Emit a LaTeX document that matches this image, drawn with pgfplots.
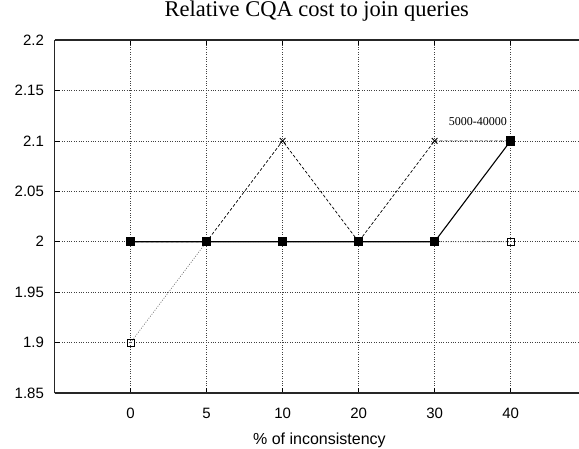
\documentclass[border=0pt]{standalone}
\usepackage{pgfplots}
\pgfplotsset{compat=1.18}
\usepackage{fontspec}
\setmainfont{Liberation Serif}
\newfontfamily\sans{Liberation Sans}
\begin{document}
\begin{tikzpicture}
\begin{axis}[
  scale only axis, width=524.4pt, height=353pt,
  at={(0,0)}, anchor=south west,
  xmin=-1, xmax=5.9, ymin=1.85, ymax=2.2,
  axis y line*=left,
  xtick={0,1,2,3,4,5}, xticklabels={0,5,10,20,30,40},
  ytick={1.85,1.9,1.95,2,2.05,2.1,2.15,2.2},
  yticklabels={1.85,1.9,1.95,2,2.05,2.1,2.15,2.2},
  tick align=inside, major tick length=5pt,
  tick style={black, line width=0.6pt},
  axis line style={line width=1.1pt, black!85},
  grid=major, grid style={dotted, black!75, line width=0.7pt},
  tick label style={font=\sans\fontsize{15}{17}\selectfont},
  xticklabel style={anchor=base, yshift=-25.7pt},
  yticklabel style={anchor=east, inner sep=0pt, xshift=-10.5pt},
  xlabel={\% of inconsistency},
  xlabel style={font=\sans\fontsize{16}{18}\selectfont, inner sep=0pt, at={(axis description cs:0.505,0)}, anchor=base, yshift=-51pt},
  title={Relative CQA cost to join queries},
  title style={font=\fontsize{22.5}{24}\selectfont, inner sep=0pt, at={(axis description cs:0.5,1)}, anchor=base, yshift=17.5pt},
  clip=false,
]
\addplot[black!60, line width=0.6pt, dash pattern=on 1pt off 1.5pt, mark=square, mark size=3.4pt, mark options={solid, black, line width=0.6pt}]
  coordinates {(0,1.9)(1,2)(2,2)(3,2)(4,2)(5,2)};
\addplot[black, line width=0.7pt, dash pattern=on 3pt off 2pt, mark=x, mark size=4pt, mark options={solid, line width=0.9pt}]
  coordinates {(0,2)(1,2)(2,2.1)(3,2)(4,2.1)(5,2.1)};
\addplot[black, line width=1.1pt, mark=square*, mark size=4.1pt, mark options={solid}]
  coordinates {(0,2)(1,2)(2,2)(3,2)(4,2)(5,2.1)};
\node[font=\fontsize{12}{14}\selectfont] at (axis cs:4.57,2.119) {5000-40000};
\end{axis}
\pgfresetboundingbox
\useasboundingbox (-54.6pt,-55pt) rectangle (524.4pt,393pt);
\end{tikzpicture}
\end{document}
